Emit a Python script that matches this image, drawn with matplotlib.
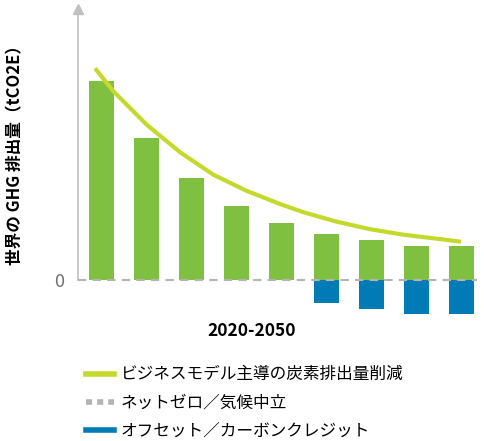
import matplotlib.pyplot as plt
from matplotlib.lines import Line2D

plt.rcParams['font.family'] = ['Noto Sans CJK JP', 'DejaVu Sans']

# Values (arbitrary units, 0 = net zero)
periods = list(range(9))
emissions = [198.7, 141.4, 101.7, 73.7, 56.7, 45.7, 39.7, 33.7, 33.7]
offsets = [0, 0, 0, 0, 0, -23, -29, -34, -34]
curve_x = [-0.144, 0.262, 1.004, 1.744, 2.484, 3.227, 3.967, 4.484,
           5.227, 5.967, 6.707, 7.449, 7.989]
curve_y = [211.4, 188.5, 155.0, 127.5, 105.0, 88.8, 75.7, 67.5,
           58.0, 50.5, 45.0, 41.0, 38.0]

labels = ["ビジネスモデル主導の炭素排出量削減", "ネットゼロ／気候中立", "オフセット／カーボンクレジット"]

GREEN = "#80c041"
LIME = "#c5d92d"
BLUE = "#007bb5"
GREY = "#b4b4b4"

fig = plt.figure(figsize=(4.84, 4.41), dpi=100)
W, H = 484, 441
ax = fig.add_axes([77.7 / W, 1 - 320 / H, (477 - 77.7) / W, (320 - 2) / H])

ax.bar(periods, emissions, width=0.55, color=GREEN, zorder=2)
ax.bar(periods, offsets, width=0.55, color=BLUE, zorder=2)
ax.plot(curve_x, curve_y, color=LIME, lw=3, solid_capstyle="butt",
        solid_joinstyle="round", zorder=3)
ax.axhline(0, color=GREY, lw=1.5, ls=(0, (4, 3)), zorder=4)

ax.set_xlim(-0.529, 8.344)
ax.set_ylim(-40.3, 277.7)
for s in ["top", "right", "bottom"]:
    ax.spines[s].set_visible(False)
ax.spines["left"].set_color("#c0c0c0")
ax.spines["left"].set_linewidth(1.2)
ax.spines["left"].set_bounds(0, 272)
ax.plot([-0.529], [271], marker="^", color="#c0c0c0", ms=7, clip_on=False)
ax.set_xticks([])
ax.set_yticks([0])
ax.set_yticklabels(["0"], fontsize=13, color="#707070")
ax.tick_params(axis="y", length=0, pad=10)

ax.set_ylabel("世界の GHG 排出量（tCO2E）", fontsize=12, fontweight="bold")
ax.yaxis.set_label_coords(-0.133, 0.531)
ax.set_xlabel("2020-2050", fontsize=12.5, fontweight="bold")
ax.xaxis.label.set_va("center")
ax.xaxis.set_label_coords(0.4365, -0.035)

handles = [
    Line2D([], [], color=LIME, lw=4),
    Line2D([], [], color=GREY, lw=4, ls=(0, (1.1, 0.9))),
    Line2D([], [], color=BLUE, lw=4),
]
fig.legend(handles, labels, loc="upper left", bbox_to_anchor=(78 / W, 1 - 358 / H),
           frameon=False, fontsize=12, handlelength=1.65, handletextpad=0.42,
           labelspacing=0.67, borderpad=0)

fig.savefig("out.png", dpi=100)
